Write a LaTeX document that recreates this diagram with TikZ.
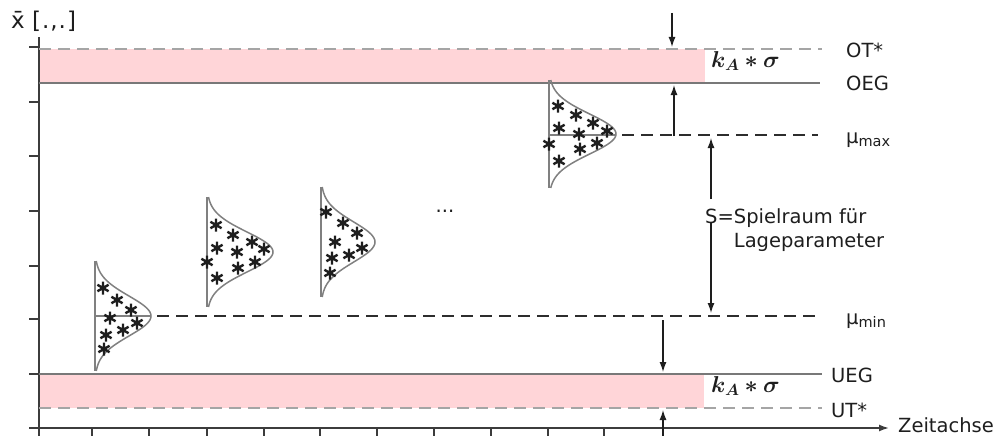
\RequirePackage{fix-cm}
\documentclass[tikz,border=0pt]{standalone}
\usepackage{amsmath,bm}
\usepackage{fontspec}
\setmainfont{DejaVu Sans}
\usetikzlibrary{arrows.meta}
\definecolor{pinkband}{RGB}{255,213,216}
\definecolor{limgray}{RGB}{120,120,120}
\definecolor{tolgray}{RGB}{165,165,165}
\definecolor{mucol}{RGB}{45,45,45}
\definecolor{txtcol}{RGB}{30,30,30}
\definecolor{arrcol}{RGB}{30,30,30}
\definecolor{curvecol}{RGB}{128,128,128}
\definecolor{axiscol}{RGB}{60,60,60}
\definecolor{starcol}{RGB}{30,30,30}
\tikzset{
  band/.style={fill=pinkband, draw=none},
  limitline/.style={draw=limgray, line width=1.6pt},
  tolline/.style={draw=tolgray, line width=1.6pt, dash pattern=on 12pt off 7pt},
  muline/.style={draw=mucol, line width=1.6pt, dash pattern=on 12pt off 7pt},
  lbl/.style={anchor=base west, inner sep=0pt, font=\fontsize{19.5}{24}\selectfont, text=txtcol},
  kalbl/.style={anchor=base west, inner sep=0pt, font=\fontsize{23}{27}\selectfont, text=txtcol},
  arr/.style={draw=arrcol, line width=1.3pt, -{Latex[length=10pt,width=7pt]}},
  curve/.style={draw=curvecol, line width=1.5pt},
  axis/.style={draw=axiscol, line width=1.6pt},
  tick/.style={draw=axiscol, line width=1.6pt},
  asterisk/.pic={\draw[starcol,line width=2.4pt] (0,-6.5)--(0,6.5) (-5.6,-3.25)--(5.6,3.25) (-5.6,3.25)--(5.6,-3.25);}
}
\newcommand\gausscurve[4]{% x0, yc, w, halfheight
  \draw[curve] (#1,#2-#4) -- (#1,#2+#4);
  \draw[curve] plot[domain=-#4:#4,samples=61,smooth] ({#1+#3*exp(-(\x*\x)/800)},{#2+\x});
}
\begin{document}
\begin{tikzpicture}[x=1pt,y=-1pt]
\useasboundingbox (0,0) rectangle (1006,436);
% bands
\fill[band] (39,49) rectangle (705,83);
\fill[band] (39,374) rectangle (704,408);
% axes
\coordinate (yb) at (39,436);
\coordinate (yt) at (39,37);
\coordinate (xl) at (29,428);
\coordinate (xr) at (889,428);
\draw[axis] (yb) -- (yt);
\draw[axis,-{Latex[length=10pt,width=7pt]}] (xl) -- (xr);
\foreach \yy in {47,102,156,211,266,319,374} \draw[tick] (29,\yy) -- (39,\yy);
\foreach \xx in {92,149,207,264,320,377,434,491,548,604} \draw[tick] (\xx,428) -- (\xx,436);
% limit lines
\draw[tolline] (39,49) -- (822,49);
\draw[limitline] (39,83) -- (820,83);
\draw[limitline] (39,374) -- (822,374);
\draw[tolline] (39,408) -- (822,408);
% labels
\node[lbl] (ot) at (846,58) {OT*};
\node[lbl] (oeg) at (846,90) {OEG};
\node[lbl] (mumax) at (846,143) {μ\raisebox{-3pt}{\fontsize{14.5}{16}\selectfont max}};
\node[lbl] (mumin) at (846,324) {μ\raisebox{-3pt}{\fontsize{14.5}{16}\selectfont min}};
\node[lbl] (ueg) at (831,382) {UEG};
\node[lbl] (ut) at (831,417) {UT*};
\node[lbl] (zeit) at (898,432) {Zeitachse};
\node[lbl, font=\fontsize{23}{27}\selectfont] (ylab) at (11,29) {x̄ [\kern1pt.\kern1pt,\kern1pt.\kern1pt]};
\node[kalbl] (ka1) at (711,67) {$\bm{k_A \ast \sigma}$};
\node[kalbl] (ka2) at (711,392) {$\bm{k_A \ast \sigma}$};
\node[lbl, anchor=north west, align=left] (s) at (705,208) {S=Spielraum für\\\hphantom{S=}Lageparameter};
\node[lbl, anchor=base] (dots) at (445,212) {...};
% distributions
\gausscurve{95}{316}{56}{55}
\gausscurve{207}{252}{66}{55}
\gausscurve{321}{242}{54}{55}
\gausscurve{549}{134}{67}{54}
\draw[curve] (95,316) -- (151,316);
\draw[curve] (549,135) -- (616,135);
% mu lines
\coordinate (mxL) at (622,135);
\coordinate (mxR) at (818,135);
\coordinate (mnL) at (157,316);
\coordinate (mnR) at (818,316);
\draw[muline] (mxL) -- (mxR);
\draw[muline] (mnL) -- (mnR);
% arrows
\coordinate (a1s) at (672,13);
\coordinate (a1e) at (672,47);
\draw[arr] (a1s) -- (a1e);
\coordinate (a2s) at (674,136);
\coordinate (a2e) at (674,85);
\draw[arr] (a2s) -- (a2e);
\coordinate (s1s) at (711,199);
\coordinate (s1e) at (711,138);
\draw[arr] (s1s) -- (s1e);
\coordinate (s2s) at (711,223);
\coordinate (s2e) at (711,313);
\draw[arr] (s2s) -- (s2e);
\coordinate (a3s) at (663,320);
\coordinate (a3e) at (663,372);
\draw[arr] (a3s) -- (a3e);
\coordinate (a4s) at (663,436);
\coordinate (a4e) at (663,410);
\draw[arr] (a4s) -- (a4e);
% asterisks
\foreach \p in {(103,288),(117,300),(131,310),(110,318),(137,323),(123,330),(106,335),(104,349)} \pic at \p {asterisk};
\foreach \p in {(216,225),(233,235),(217,248),(252,242),(264,249),(237,252),(207,262),(255,262),(238,268),(217,278)} \pic at \p {asterisk};
\foreach \p in {(326,212),(343,223),(357,233),(335,242),(362,248),(349,255),(332,258),(330,273)} \pic at \p {asterisk};
\foreach \p in {(558,106),(576,115),(593,123),(559,128),(579,134),(607,131),(549,144),(597,143),(580,149),(559,161)} \pic at \p {asterisk};
\end{tikzpicture}
\end{document}
